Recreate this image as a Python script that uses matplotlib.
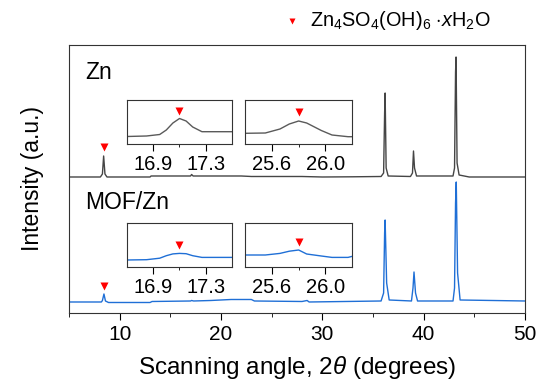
import matplotlib
matplotlib.use('Agg')
import matplotlib.pyplot as plt

plt.rcParams['font.family'] = ['Liberation Sans', 'DejaVu Sans']
plt.rcParams['mathtext.fontset'] = 'custom'
plt.rcParams['mathtext.rm'] = 'Liberation Sans'
plt.rcParams['mathtext.it'] = 'Liberation Sans:italic'

# main XRD traces (2theta in degrees, intensity in arbitrary units incl. offset)
zn_x = [5.0, 8.1, 8.3, 8.42, 8.55, 8.75, 13.0, 13.1, 17.0, 17.1, 17.25, 22.0, 23.0,
        28.0, 30.0, 33.0, 35.8, 36.05, 36.15, 36.2, 36.3, 36.5, 38.7, 38.9, 39.0,
        39.1, 39.3, 42.9, 43.05, 43.15, 43.2, 43.3, 43.5, 44.5, 50.0]
zn_y = [136, 136, 139, 157, 139, 136, 136, 137, 137, 138.5, 137, 137, 136.5,
        136.5, 136, 136.2, 136.5, 140, 200, 220, 145, 137, 136.5, 140, 162,
        145, 137, 137, 145, 241, 256, 150, 138, 136, 136]

mof_x = [5.0, 8.2, 8.3, 8.45, 8.6, 8.9, 13.0, 13.2, 17.0, 17.1, 17.3, 19.0, 21.0,
         23.0, 23.3, 28.0, 28.5, 28.7, 35.8, 36.05, 36.15, 36.2, 36.35, 36.6, 38.8,
         38.95, 39.05, 39.2, 39.4, 42.9, 43.05, 43.15, 43.22, 43.35, 43.6, 50.0]
mof_y = [11, 11, 12.5, 19, 12, 10.5, 10.5, 11.5, 12, 12.5, 12, 12.5, 13.5,
         13.5, 12, 11.5, 12.5, 11, 12, 20, 80, 93, 30, 13, 12,
         25, 41, 20, 12, 12, 25, 110, 131, 40, 13, 12]

# Zn4SO4(OH)6 xH2O marker positions
mark_x = [8.42, 8.45]
mark_y = [166, 27]

# zoomed insets around 17.1 and 25.8 degrees
in1_x = [16.7, 16.85, 16.95, 17.0, 17.05, 17.1, 17.15, 17.2, 17.27, 17.5]
zn_in1_y = [7.5, 8, 9.5, 14, 21, 25.5, 23, 17, 12.3, 12.3]
mof_in1_y = [6.7, 7, 8.5, 11, 12.8, 13.3, 13, 11, 9.3, 9.3]

in2_x = [25.4, 25.55, 25.66, 25.73, 25.8, 25.86, 25.97, 26.05, 26.17, 26.2]
zn_in2_y = [10.7, 11, 15, 20, 23, 21, 13.5, 9, 7.3, 7.3]
mof_in2_y = [11.7, 11.7, 13.3, 15.5, 16.7, 12.7, 10.7, 9.3, 9.3, 10.3]

in_mark_x = [17.1, 25.8]
zn_in_mark_y = [33.3, 32]
mof_in_mark_y = [21.7, 25]

zn_color = '#454545'
zn_in_color = '#5a5a5a'
mof_color = '#1f6fd6'

fig = plt.figure(figsize=(5.36, 3.81), dpi=100)
ax = fig.add_axes([0.1287, 0.1785, 0.8507, 0.7034])
ax.plot(zn_x, zn_y, color=zn_color, lw=1.0)
ax.plot(mof_x, mof_y, color=mof_color, lw=1.0)
ax.plot(mark_x, mark_y, 'v', color='red', ms=5.5, mec='none')
ax.set_xlim(5, 50)
ax.set_ylim(0, 268)
ax.set_yticks([])
ax.set_xticks([10, 20, 30, 40, 50])
ax.set_xticks([5, 15, 25, 35, 45], minor=True)
ax.tick_params(axis='x', which='major', direction='out', length=5, labelsize=15)
ax.tick_params(axis='x', which='minor', direction='out', length=3)
for s in ax.spines.values():
    s.set_color('#333333')
ax.set_xlabel(r'Scanning angle, 2$\theta$ (degrees)', fontsize=17.5, labelpad=7)
ax.set_ylabel('Intensity (a.u.)', fontsize=16.5, labelpad=18)
ax.text(0.035, 0.899, 'Zn', transform=ax.transAxes, fontsize=16.5, va='center')
ax.text(0.035, 0.414, 'MOF/Zn', transform=ax.transAxes, fontsize=16.5, va='center')

# legend-like annotation above the axes
fig.lines.append(plt.Line2D([292 / 536], [1 - 21 / 381], marker='v', color='red',
                            ms=4.5, mec='none', transform=fig.transFigure))
fig.text(310 / 536, 1 - 21 / 381, r'Zn$_4$SO$_4$(OH)$_6$ $\cdot$$x$H$_2$O',
         fontsize=14.3, va='center')


def inset(rect, xs, ys, xlim, ticks, minor, mx, my, color):
    a = fig.add_axes(rect)
    a.plot(xs, ys, color=color, lw=1.0)
    a.plot([mx], [my], 'v', color='red', ms=5.5, mec='none')
    a.set_xlim(*xlim)
    a.set_ylim(0, 44)
    a.set_yticks([])
    a.set_xticks(ticks)
    a.set_xticks([minor], minor=True)
    a.tick_params(axis='x', which='major', direction='out', length=5, labelsize=14.5, pad=3)
    a.tick_params(axis='x', which='minor', direction='out', length=2.5)
    for s in a.spines.values():
        s.set_color('#333333')
    return a


w1 = 105.6 / 536
w2 = 106.7 / 536
h = 44 / 381
inset([126.7 / 536, 1 - 144 / 381, w1, h], in1_x, zn_in1_y, (16.7, 17.5), [16.9, 17.3], 17.1,
      in_mark_x[0], zn_in_mark_y[0], zn_in_color)
inset([245.3 / 536, 1 - 144 / 381, w2, h], in2_x, zn_in2_y, (25.4, 26.2), [25.6, 26.0], 25.8,
      in_mark_x[1], zn_in_mark_y[1], zn_in_color)
inset([126.7 / 536, 1 - 266.7 / 381, w1, h], in1_x, mof_in1_y, (16.7, 17.5), [16.9, 17.3], 17.1,
      in_mark_x[0], mof_in_mark_y[0], mof_color)
inset([245.3 / 536, 1 - 266.7 / 381, w2, h], in2_x, mof_in2_y, (25.4, 26.2), [25.6, 26.0], 25.8,
      in_mark_x[1], mof_in_mark_y[1], mof_color)

fig.savefig('out.png', dpi=100)
